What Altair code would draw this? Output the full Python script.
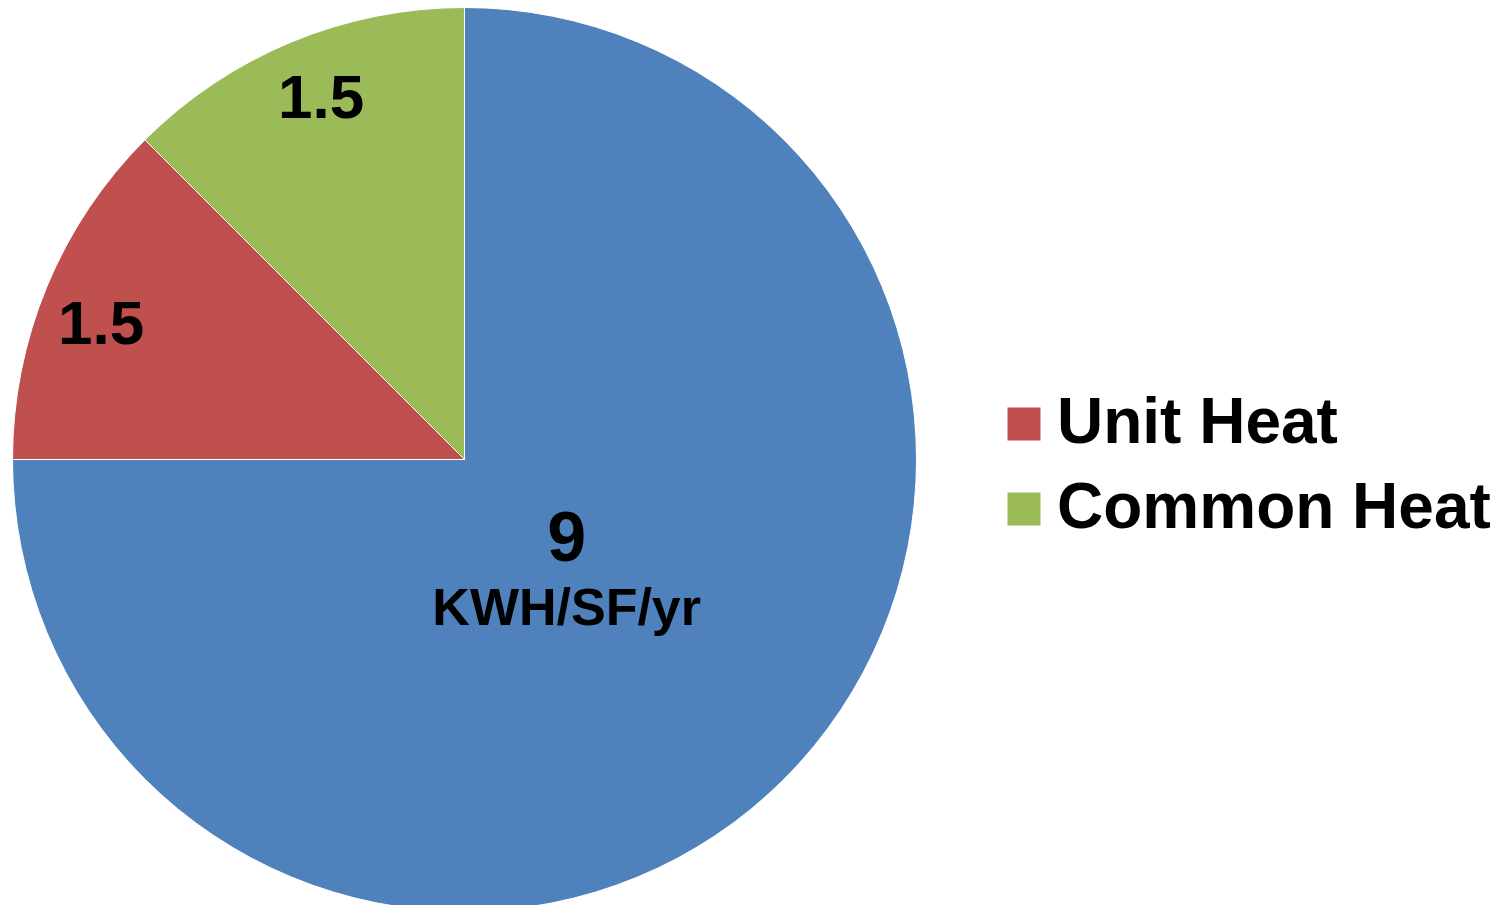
import altair as alt
import pandas as pd

categories = ["Heat", "Unit Heat", "Common Heat"]
values = [9, 1.5, 1.5]
labels = ["9", "1.5", "1.5"]
unit_label = "KWH/SF/yr"
legend_items = ["Unit Heat", "Common Heat"]
colors = ["#4F81BD", "#C0504D", "#9BBB59"]

df = pd.DataFrame({"category": categories, "value": values, "label": labels})

W, H = 1491, 897
CX, CY = 456.5, 451.5
R = 452
FONT = "Liberation Sans"

base = alt.Chart(df).transform_window(idx="row_number()").encode(
    theta=alt.Theta("value:Q", stack=True),
    order=alt.Order("idx:Q"),
    x=alt.value(CX),
    y=alt.value(CY),
)

arcs = base.mark_arc(radius=R, stroke="white", strokeWidth=1).encode(
    color=alt.Color(
        "category:N",
        scale=alt.Scale(domain=categories, range=colors),
        legend=alt.Legend(
            values=legend_items,
            title=None,
            orient="none",
            legendX=984,
            legendY=384,
            symbolType="square",
            symbolSize=1089,
            symbolStrokeWidth=0,
            labelFontSize=64,
            labelFont=FONT,
            labelFontWeight="bold",
            labelColor="black",
            labelOffset=1,
            labelLimit=1000,
            rowPadding=21,
            padding=0,
        ),
    )
)


def label_layer(cat, text_expr, radius, size, dx=0, dy=0):
    return base.transform_calculate(
        t=f"datum.category == '{cat}' ? {text_expr} : ''"
    ).mark_text(
        radius=radius, dx=dx, dy=dy, font=FONT, fontWeight="bold", fontSize=size,
        color="black", align="center", baseline="middle"
    ).encode(text="t:N")


red_lbl = label_layer(categories[1], "datum.label", 388, 62, dx=-5, dy=14)
green_lbl = label_layer(categories[2], "datum.label", 388, 62, dx=5, dy=-2)
big = label_layer(categories[0], "datum.label", 144.5, 70, dy=-22)
unit = label_layer(categories[0], f"'{unit_label}'", 144.5, 52, dy=47)

chart = alt.layer(arcs, red_lbl, green_lbl, big, unit).properties(
    width=W, height=H, autosize=alt.AutoSizeParams(type="none"), padding=0
).configure_view(stroke=None)

chart.save("out.html", embed_options={"renderer": "svg", "actions": False})
